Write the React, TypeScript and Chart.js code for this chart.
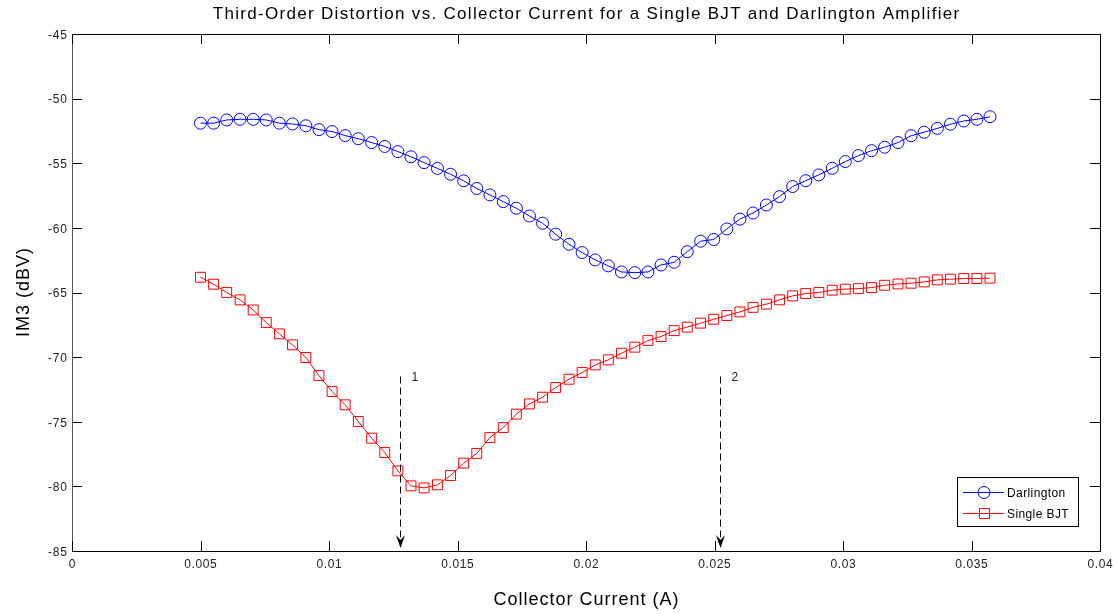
import React, { useEffect, useRef } from "react";
import { Chart, registerables } from "chart.js";

Chart.register(...registerables);

const xValues = [
  0.005, 0.00551, 0.00602, 0.00654, 0.00705, 0.00756, 0.00807, 0.00858, 0.0091, 0.00961,
  0.01012, 0.01063, 0.01114, 0.01166, 0.01217, 0.01268, 0.01319, 0.0137, 0.01422, 0.01473,
  0.01524, 0.01575, 0.01626, 0.01678, 0.01729, 0.0178, 0.01831, 0.01882, 0.01934, 0.01985,
  0.02036, 0.02087, 0.02138, 0.0219, 0.02241, 0.02292, 0.02343, 0.02394, 0.02446, 0.02497,
  0.02548, 0.02599, 0.0265, 0.02702, 0.02753, 0.02804, 0.02855, 0.02906, 0.02958, 0.03009,
  0.0306, 0.03111, 0.03162, 0.03214, 0.03265, 0.03316, 0.03367, 0.03418, 0.0347, 0.03521,
  0.03572,
];

const darlington = [
  -51.9, -51.9, -51.65, -51.6, -51.6, -51.65, -51.9, -51.96, -52.1, -52.4,
  -52.55, -52.86, -53.1, -53.4, -53.7, -54.1, -54.5, -54.95, -55.4, -55.85,
  -56.36, -56.95, -57.45, -57.97, -58.48, -59.08, -59.64, -60.49, -61.27, -61.91,
  -62.48, -62.94, -63.41, -63.46, -63.41, -62.87, -62.66, -61.84, -61.03, -60.9,
  -60.08, -59.32, -58.85, -58.23, -57.58, -56.8, -56.35, -55.9, -55.39, -54.87,
  -54.41, -54.03, -53.76, -53.4, -52.87, -52.6, -52.3, -51.98, -51.73, -51.6,
  -51.4,
];

const singleBJT = [
  -63.82, -64.36, -65.0, -65.57, -66.35, -67.33, -68.2, -69.05, -70.03, -71.43,
  -72.66, -73.69, -74.98, -76.27, -77.38, -78.8, -79.96, -80.12, -79.88, -79.16,
  -78.2, -77.45, -76.22, -75.45, -74.41, -73.62, -73.1, -72.35, -71.71, -71.19,
  -70.6, -70.21, -69.7, -69.23, -68.72, -68.41, -67.95, -67.68, -67.37, -67.07,
  -66.78, -66.5, -66.15, -65.9, -65.57, -65.26, -65.08, -65.0, -64.82, -64.74,
  -64.7, -64.62, -64.44, -64.34, -64.28, -64.18, -64.02, -63.97, -63.92, -63.92,
  -63.89,
];

const seriesNames = ["Darlington", "Single BJT"];
const xTickValues = [0, 0.005, 0.01, 0.015, 0.02, 0.025, 0.03, 0.035, 0.04];
const xTickLabels = ["0", "0.005", "0.01", "0.015", "0.02", "0.025", "0.03", "0.035", "0.04"];
const yTickValues = [-85, -80, -75, -70, -65, -60, -55, -50, -45];
const yTickLabels = ["-85", "-80", "-75", "-70", "-65", "-60", "-55", "-50", "-45"];
const arrowX = [0.01276, 0.02521];
const arrowLabels = ["1", "2"];
const arrowTop = -71.5;

const titleText = "Third-Order Distortion vs. Collector Current for a Single BJT and Darlington Amplifier";
const xTitle = "Collector Current (A)";
const yTitle = "IM3 (dBV)";

const FONT = "'Liberation Sans', Arial, Helvetica, sans-serif";

function spacedText(ctx: any, text: string, x: number, y: number, spacing: number, align: string) {
  ctx.letterSpacing = `${spacing}px`;
  const w = ctx.measureText(text).width - spacing;
  let sx = x;
  if (align === "center") sx = x - w / 2;
  else if (align === "right") sx = x - w;
  ctx.textAlign = "left";
  ctx.fillText(text, sx, y);
  ctx.letterSpacing = "0px";
}

const overlay = {
  id: "overlay",
  afterDraw(chart: any) {
    const { ctx, chartArea: a, scales } = chart;
    const xs = scales.x;
    const ys = scales.y;
    ctx.save();
    // box
    ctx.strokeStyle = "#000";
    ctx.lineWidth = 1;
    ctx.strokeRect(Math.round(a.left) + 0.5, Math.round(a.top) + 0.5, Math.round(a.right - a.left), Math.round(a.bottom - a.top));
    ctx.strokeStyle = "#555";
    ctx.beginPath();
    ctx.moveTo(Math.round(a.left) + 0.5, a.top);
    ctx.lineTo(Math.round(a.left) + 0.5, a.bottom);
    ctx.stroke();
    ctx.strokeStyle = "#000";
    // inward ticks
    const tl = 10;
    ctx.beginPath();
    xTickValues.forEach((v) => {
      const px = Math.round(xs.getPixelForValue(v)) + 0.5;
      ctx.moveTo(px, a.bottom);
      ctx.lineTo(px, a.bottom - tl);
      ctx.moveTo(px, a.top);
      ctx.lineTo(px, a.top + tl);
    });
    yTickValues.forEach((v) => {
      const py = Math.round(ys.getPixelForValue(v)) + 0.5;
      ctx.moveTo(a.left, py);
      ctx.lineTo(a.left + tl, py);
      ctx.moveTo(a.right, py);
      ctx.lineTo(a.right - tl, py);
    });
    ctx.stroke();

    // tick labels
    ctx.fillStyle = "#222";
    ctx.font = `12px ${FONT}`;
    ctx.textBaseline = "middle";
    xTickValues.forEach((v, i) => {
      spacedText(ctx, xTickLabels[i], xs.getPixelForValue(v), 565, 0.6, "center");
    });
    yTickValues.forEach((v, i) => {
      spacedText(ctx, yTickLabels[i], 67, ys.getPixelForValue(v) + 1.5, 0.8, "right");
    });

    // arrows
    arrowX.forEach((xv, i) => {
      const px = Math.round(xs.getPixelForValue(xv)) + 0.5;
      const top = ys.getPixelForValue(arrowTop);
      const tip = a.bottom - 3;
      ctx.strokeStyle = "#000";
      ctx.setLineDash([7, 4]);
      ctx.beginPath();
      ctx.moveTo(px, top);
      ctx.lineTo(px, tip - 8);
      ctx.stroke();
      ctx.setLineDash([]);
      ctx.fillStyle = "#000";
      ctx.beginPath();
      ctx.moveTo(px, tip);
      ctx.lineTo(px - 4.5, tip - 13);
      ctx.lineTo(px, tip - 8);
      ctx.lineTo(px + 4.5, tip - 13);
      ctx.closePath();
      ctx.fill();
      ctx.font = `12px ${FONT}`;
      ctx.fillStyle = "#222";
      ctx.textBaseline = "middle";
      spacedText(ctx, arrowLabels[i], px + 11, top + 1, 0, "left");
    });

    // title & axis titles
    ctx.fillStyle = "#000";
    ctx.textBaseline = "middle";
    ctx.font = `17px ${FONT}`;
    spacedText(ctx, titleText, (a.left + a.right) / 2, 14, 1.3, "center");
    ctx.font = `18px ${FONT}`;
    spacedText(ctx, xTitle, (a.left + a.right) / 2, 600, 1.0, "center");
    ctx.save();
    ctx.translate(24, (a.top + a.bottom) / 2);
    ctx.rotate(-Math.PI / 2);
    spacedText(ctx, yTitle, 0, 0, 1.0, "center");
    ctx.restore();

    // legend
    const lx = 957, ly = 477, lw = 121, lh = 49;
    ctx.fillStyle = "#fff";
    ctx.fillRect(lx, ly, lw, lh);
    ctx.strokeStyle = "#000";
    ctx.lineWidth = 1;
    ctx.strokeRect(lx + 0.5, ly + 0.5, lw, lh);
    const rows = [
      { name: seriesNames[0], color: "#0000ff", y: 492.5, shape: "circle" },
      { name: seriesNames[1], color: "#ff0000", y: 513.5, shape: "rect" },
    ];
    rows.forEach((r) => {
      ctx.strokeStyle = r.color;
      ctx.beginPath();
      ctx.moveTo(963, r.y);
      ctx.lineTo(1004, r.y);
      ctx.stroke();
      ctx.beginPath();
      if (r.shape === "circle") {
        ctx.arc(984, r.y, 6, 0, Math.PI * 2);
      } else {
        ctx.rect(979.5, r.y - 5, 10, 10);
      }
      ctx.stroke();
      ctx.fillStyle = "#000";
      ctx.font = `12px ${FONT}`;
      ctx.textBaseline = "middle";
      spacedText(ctx, r.name, 1007, r.y + 1, 0.4, "left");
    });
    ctx.restore();
  },
};

export default function App() {
  const ref = useRef<HTMLCanvasElement | null>(null);
  useEffect(() => {
    if (!ref.current) return;
    const chart = new Chart(ref.current, {
      type: "line",
      data: {
        datasets: [
          {
            label: seriesNames[0],
            data: xValues.map((x, i) => ({ x, y: darlington[i] })),
            borderColor: "#0000ff",
            borderWidth: 1,
            pointStyle: "circle",
            pointRadius: 6,
            pointBorderColor: "#0000ff",
            pointBackgroundColor: "rgba(0,0,0,0)",
            pointBorderWidth: 1,
            tension: 0,
          },
          {
            label: seriesNames[1],
            data: xValues.map((x, i) => ({ x, y: singleBJT[i] })),
            borderColor: "#ff0000",
            borderWidth: 1,
            pointStyle: "rect",
            pointRadius: 7,
            pointBorderColor: "#ff0000",
            pointBackgroundColor: "rgba(0,0,0,0)",
            pointBorderWidth: 1,
            tension: 0,
          },
        ],
      },
      options: {
        animation: false,
        responsive: false,
        layout: { padding: { left: 0, top: 34, right: 17, bottom: 0 } },
        plugins: { legend: { display: false }, title: { display: false }, tooltip: { enabled: false } },
        scales: {
          x: {
            type: "linear",
            min: 0,
            max: 0.04,
            grid: { display: false, drawTicks: false },
            border: { display: false },
            ticks: { display: false, stepSize: 0.005 },
            afterFit: (s: any) => {
              s.height = 63;
            },
          },
          y: {
            type: "linear",
            min: -85,
            max: -45,
            grid: { display: false, drawTicks: false },
            border: { display: false },
            ticks: { display: false, stepSize: 5 },
            afterFit: (s: any) => {
              s.width = 72;
            },
          },
        },
      },
      plugins: [overlay],
    });
    return () => chart.destroy();
  }, []);
  return (
    <div style={{ position: "absolute", left: 0, top: 0, width: 1117, height: 614, background: "#fff" }}>
      <canvas ref={ref} width={1117} height={614} />
    </div>
  );
}
